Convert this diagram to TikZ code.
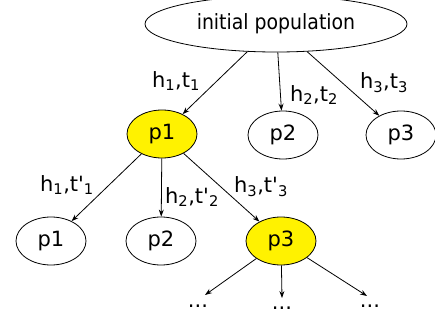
\documentclass[tikz,border=0pt]{standalone}
\usepackage{fontspec}
\setmainfont{DejaVu Sans}
\newfontfamily\condfont{DejaVu Sans Condensed}
\usetikzlibrary{shapes.geometric,arrows.meta}
\newcommand{\prm}{\textquotesingle}
\begin{document}
\begin{tikzpicture}[x=1pt,y=-1pt,
  pop/.style={ellipse,draw,line width=0.8pt,minimum width=70pt,minimum height=48pt,inner sep=0pt,font=\fontsize{21}{24}\selectfont},
  sel/.style={pop,fill=yellow},
  lab/.style={font=\fontsize{21}{24}\selectfont,inner sep=0pt},
  dotsnode/.style={font=\fontsize{21}{24}\selectfont,inner sep=0pt,anchor=base},
  arr/.style={-{Stealth[length=7pt,width=5pt]},line width=0.8pt}]
\useasboundingbox (0,0) rectangle (435,320);
\node[ellipse,draw,line width=0.8pt,minimum width=262pt,minimum height=56pt,inner sep=0pt,font=\condfont\fontsize{21}{24}\selectfont] (init) at (276,24) {initial population};
\node[sel] (a1) at (162,134) {p1};
\node[pop] (a2) at (283,135) {p2};
\node[pop] (a3) at (401,135) {p3};
\node[pop] (b1) at (51,241) {p1};
\node[pop] (b2) at (161,241) {p2};
\node[sel] (b3) at (281,241) {p3};
\node[dotsnode] (d1) at (198,307.5) {...};
\node[dotsnode] (d2) at (282,309.5) {...};
\node[dotsnode] (d3) at (370,307.5) {...};
\coordinate (e1) at (205,295);
\coordinate (e2) at (282,298);
\coordinate (e3) at (367,296);
\draw[arr] (init) -- (a1);
\draw[arr] (init) -- (a2);
\draw[arr] (init) -- (a3);
\draw[arr] (a1) -- (b1);
\draw[arr] (a1) -- (b2);
\draw[arr] (a1) -- (b3);
\draw[arr] (b3) -- (e1);
\draw[arr] (b3) -- (e2);
\draw[arr] (b3) -- (e3);
\node[lab] (l1) at (176,81) {h\textsubscript{1},t\textsubscript{1}};
\node[lab] (l2) at (314,95) {h\textsubscript{2},t\textsubscript{2}};
\node[lab] (l3) at (384,83) {h\textsubscript{3},t\textsubscript{3}};
\node[lab] (m1) at (67,185) {h\textsubscript{1},t\prm\textsubscript{1}};
\node[lab] (m2) at (192,197) {h\textsubscript{2},t\prm\textsubscript{2}};
\node[lab] (m3) at (261,187) {h\textsubscript{3},t\prm\textsubscript{3}};
\end{tikzpicture}
\end{document}
